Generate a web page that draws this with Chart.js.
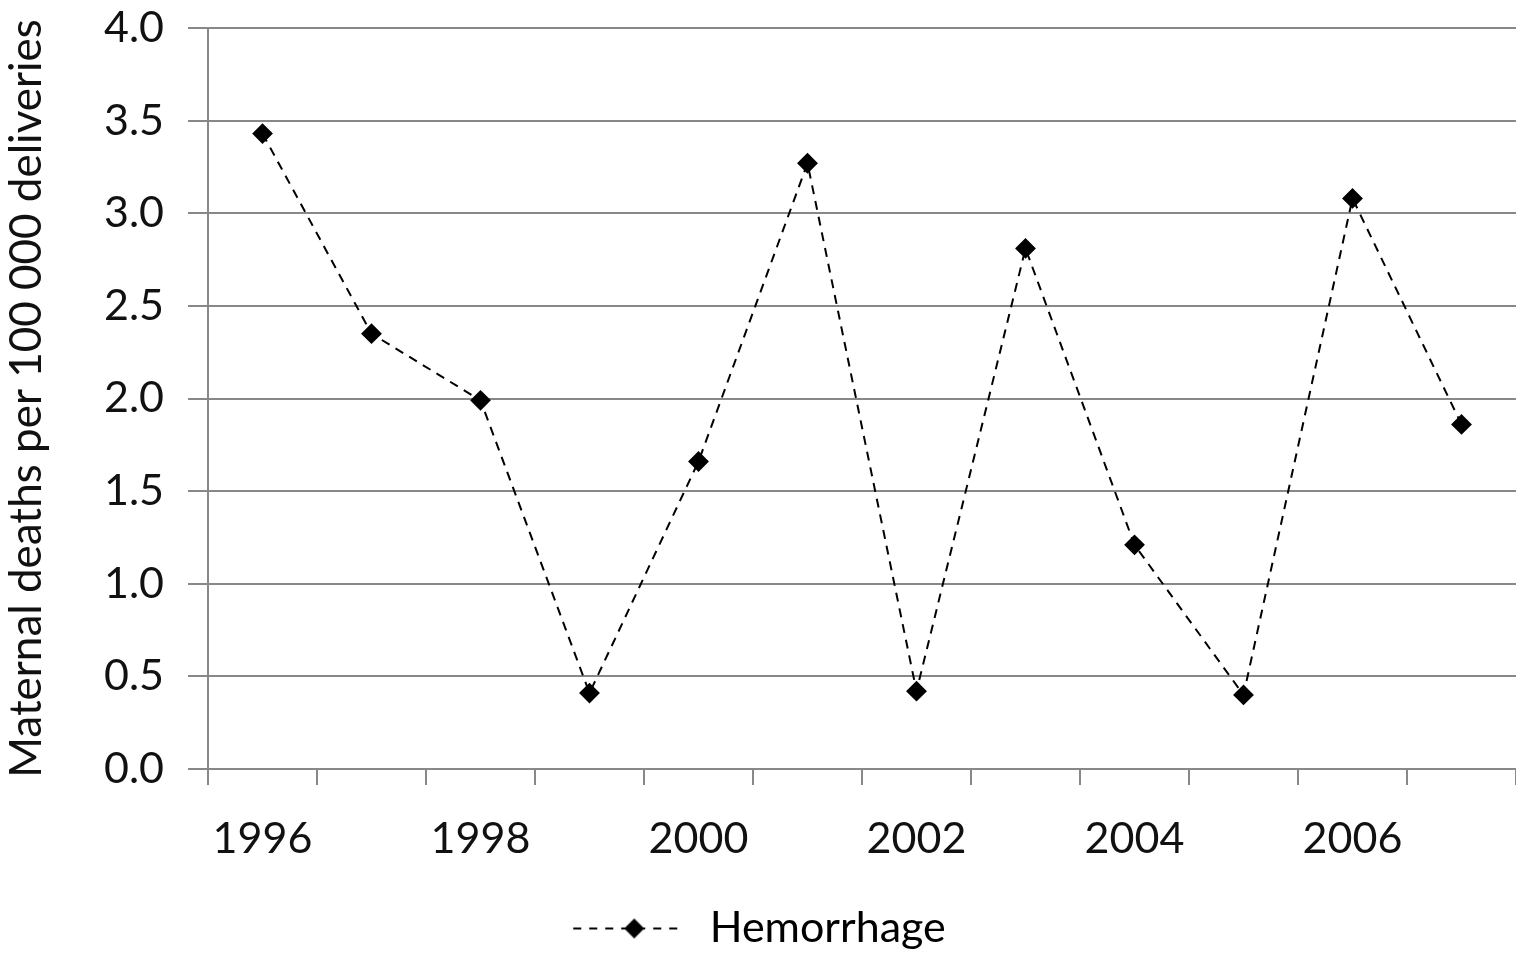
<!DOCTYPE html>
<html>
<head>
<meta charset="utf-8">
<script src="https://cdn.jsdelivr.net/npm/chart.js@4/dist/chart.umd.min.js"></script>
<style>
  html, body { margin: 0; padding: 0; background: #fff; }
  #wrap { width: 1516px; height: 960px; position: relative; }
</style>
</head>
<body>
<div id="wrap"><canvas id="chart"></canvas></div>
<script>
// Datos
const years = ['1996', '1997', '1998', '1999', '2000', '2001', '2002', '2003', '2004', '2005', '2006', '2007'];
const hemorrhage = [3.43, 2.35, 1.99, 0.41, 1.66, 3.27, 0.42, 2.81, 1.21, 0.40, 3.08, 1.86];
const yTicks = [0, 0.5, 1, 1.5, 2, 2.5, 3, 3.5, 4];

const FONT = 'Lato, "Open Sans", sans-serif';

// Icono de leyenda: línea discontinua con rombo
function legendIcon() {
    const c = document.createElement('canvas');
    c.width = 116; c.height = 26;
    const g = c.getContext('2d');
    g.strokeStyle = '#000';
    g.lineWidth = 2;
    g.setLineDash([8, 8]);
    g.beginPath();
    g.moveTo(2, 13);
    g.lineTo(114, 13);
    g.stroke();
    g.setLineDash([]);
    g.fillStyle = '#000';
    g.beginPath();
    g.moveTo(63, 3); g.lineTo(73, 13); g.lineTo(63, 23); g.lineTo(53, 13);
    g.closePath();
    g.fill();
    return c;
}

new Chart(document.getElementById('chart').getContext('2d'), {
    type: 'line',
    data: {
        labels: years,
        datasets: [{
            label: 'Hemorrhage',
            data: hemorrhage,
            borderColor: '#000',
            backgroundColor: '#000',
            borderWidth: 2,
            borderDash: [9, 7],
            tension: 0,
            pointStyle: 'rectRot',
            pointRadius: 9,
            pointBackgroundColor: '#000',
            pointBorderColor: '#000'
        }]
    },
    options: {
        responsive: true,
        maintainAspectRatio: false,
        animation: false,
        layout: { autoPadding: false, padding: { top: 28, right: 0, left: 0, bottom: 0 } },
        scales: {
            x: {
                offset: true,
                grid: {
                    offset: true,
                    drawOnChartArea: false,
                    drawTicks: true,
                    tickLength: 16,
                    color: '#888',
                    lineWidth: 2
                },
                border: { display: true, color: '#888', width: 2 },
                ticks: {
                    autoSkip: false,
                    maxRotation: 0,
                    color: '#111',
                    padding: 28,
                    font: { family: FONT, size: 43 },
                    callback: function (v, i) { return i % 2 === 0 ? years[i] : ''; }
                },
                afterFit: function (s) { s.height = 133; s.paddingLeft = 0; s.paddingRight = 0; }
            },
            y: {
                min: 0,
                max: 4,
                afterBuildTicks: function (s) { s.ticks = yTicks.map(v => ({ value: v })); },
                grid: { color: '#888', lineWidth: 2, tickLength: 20 },
                border: { display: true, color: '#888', width: 2 },
                ticks: {
                    color: '#111',
                    padding: 24,
                    font: { family: FONT, size: 43 },
                    callback: v => v.toFixed(1)
                },
                title: {
                    display: true,
                    text: 'Maternal deaths per 100 000 deliveries',
                    color: '#111',
                    padding: { top: 0, bottom: 0 },
                    font: { family: FONT, size: 44 }
                },
                afterFit: function (s) { s.width = 208; s.paddingTop = 0; s.paddingBottom = 0; }
            }
        },
        plugins: {
            legend: {
                display: true,
                position: 'bottom',
                labels: {
                    color: '#111',
                    usePointStyle: true,
                    pointStyleWidth: 118,
                    padding: 5,
                    font: { family: FONT, size: 43 },
                    generateLabels: function (chart) {
                        return [{
                            text: 'Hemorrhage',
                            pointStyle: legendIcon(),
                            fillStyle: '#000',
                            strokeStyle: '#000',
                            lineWidth: 0,
                            datasetIndex: 0
                        }];
                    }
                }
            },
            tooltip: { enabled: false }
        }
    }
});
</script>
</body>
</html>
